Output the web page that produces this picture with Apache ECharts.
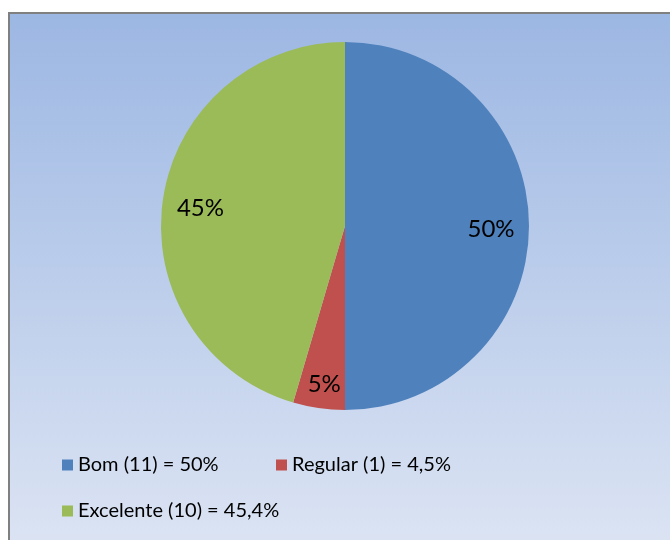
<!DOCTYPE html>
<html>
<head>
<meta charset="utf-8">
<script src="https://cdn.jsdelivr.net/npm/echarts@6/dist/echarts.min.js"></script>
<style>
html,body{margin:0;padding:0;background:#fff;}
#c{width:670px;height:540px;}
</style>
</head>
<body>
<div id="c"></div>
<script>
const categories = ['Bom (11) = 50%', 'Regular (1) = 4,5%', 'Excelente (10) = 45,4%'];
const values = [11, 1, 10];
const colors = ['#4f81bd', '#c0504d', '#9bbb59'];

const FONT = 'Lato, "Open Sans", sans-serif';
const chart = echarts.init(document.getElementById('c'), null, {renderer: 'canvas'});

const pieData = categories.map((n, i) => ({name: n, value: values[i], itemStyle: {color: colors[i]}}));
const labelData = categories.map((n, i) => {
  const d = {name: n, value: values[i]};
  if (i === 1) d.label = {rich: {gap: {fontSize: 4, lineHeight: 27}}};
  return d;
});

const legendText = {fontFamily: FONT, fontSize: 20, color: '#000', lineHeight: 24};
function legendFor(name, left, top) {
  return {
    data: [name], left: left, top: top, orient: 'horizontal', padding: 0,
    icon: 'rect', itemWidth: 11, itemHeight: 11, itemGap: 5,
    textStyle: legendText, selectedMode: false
  };
}

chart.setOption({
  animation: false,
  graphic: [{
    type: 'rect', z: -10, silent: true,
    shape: {x: 9, y: 13, width: 680, height: 560},
    style: {
      fill: new echarts.graphic.LinearGradient(0, 0, 0, 1, [
        {offset: 0, color: '#9cb7e3'},
        {offset: 1, color: '#dfe6f4'}
      ]),
      stroke: '#808080', lineWidth: 2
    }
  }],
  legend: [
    legendFor(categories[0], 62, 453),
    legendFor(categories[1], 276, 453),
    legendFor(categories[2], 62, 499)
  ],
  series: [{
    type: 'pie', center: [345, 226], radius: [0, 184],
    startAngle: 90, clockwise: true, silent: true,
    label: {show: false}, labelLine: {show: false},
    data: pieData
  }, {
    type: 'pie', center: [345, 226], radius: [102, 184],
    startAngle: 90, clockwise: true, silent: true, percentPrecision: 0,
    legendHoverLink: false,
    itemStyle: {color: 'rgba(0,0,0,0)'},
    label: {
      show: true, position: 'inside', formatter: '{gap| }\n{v|{d}%}',
      rich: {
        gap: {fontSize: 4, lineHeight: 6},
        v: {fontFamily: FONT, fontSize: 24, color: '#000', lineHeight: 28}
      }
    },
    labelLine: {show: false},
    data: labelData
  }]
});
</script>
</body>
</html>
